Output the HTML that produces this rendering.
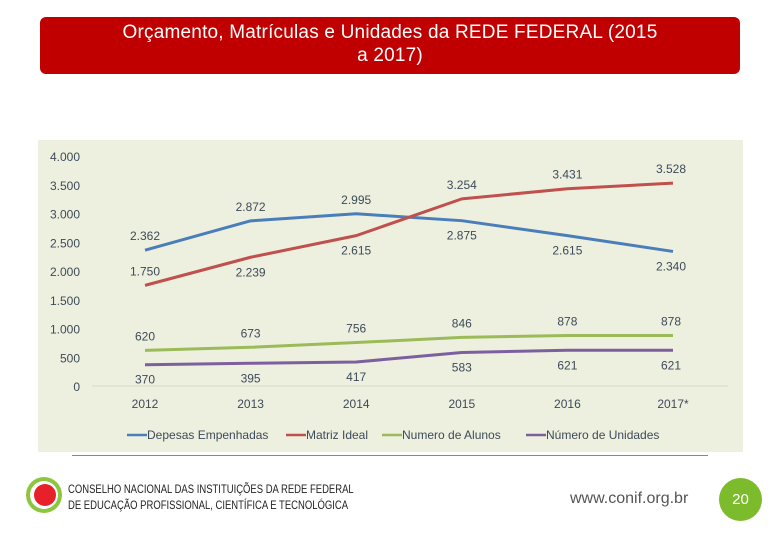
<!DOCTYPE html>
<html><head><meta charset="utf-8">
<style>
body{margin:0;width:780px;height:540px;background:#fff;font-family:"Liberation Sans",sans-serif;overflow:hidden;position:relative}
#title{position:absolute;left:40px;top:17px;width:700px;height:57px;background:#c00000;border-radius:6px;color:#fff;font-size:19px;text-align:center;line-height:23px;padding-top:4px;box-sizing:border-box;letter-spacing:0.2px}
#sep{position:absolute;left:72px;top:455px;width:636px;height:1px;background:#888}
#foot{position:absolute;left:68px;top:481px;font-size:12px;line-height:16px;color:#222;font-family:"Liberation Sans Narrow","Liberation Sans",sans-serif;transform:scaleX(0.79);transform-origin:left}
#url{position:absolute;left:570px;top:490px;font-size:16px;color:#555}
#page{position:absolute;left:719px;top:478px;width:43px;height:43px;border-radius:50%;background:#7cbc2c;color:#fff;font-size:15px;text-align:center;line-height:43px}
</style></head><body>
<div id="title">Orçamento, Matrículas e Unidades da REDE FEDERAL (2015<br>a 2017)</div>
<svg id="chart" width="780" height="540" style="position:absolute;left:0;top:0">
<rect x="38" y="140" width="705" height="312" fill="#eef0df"/>
<g id="g"></g>
</svg>
<div id="sep"></div>
<svg style="position:absolute;left:24px;top:475px" width="40" height="40">
<circle cx="20" cy="20" r="18" fill="#8cc63f"/><circle cx="20" cy="20" r="14" fill="#fff"/><circle cx="21" cy="20" r="11" fill="#e8202a"/></svg>
<div id="foot">CONSELHO NACIONAL DAS INSTITUIÇÕES DA REDE FEDERAL<br>DE EDUCAÇÃO PROFISSIONAL, CIENTÍFICA E TECNOLÓGICA</div>
<div id="url">www.conif.org.br</div>
<div id="page">20</div>
<script>
const categories=["2012","2013","2014","2015","2016","2017*"];
const despesas=[2362,2872,2995,2875,2615,2340];
const matriz=[1750,2239,2615,3254,3431,3528];
const alunos=[620,673,756,846,878,878];
const unidades=[370,395,417,583,621,621];
const yTicks=[0,500,1000,1500,2000,2500,3000,3500,4000];
const seriesNames=["Depesas Empenhadas","Matriz Ideal","Numero de Alunos","Número de Unidades"];
const fmt=v=>v>=1000?Math.floor(v/1000)+"."+String(v%1000).padStart(3,"0"):String(v);
const x=i=>145+i*105.6, y=v=>386-v*230/4000;
const NS="http://www.w3.org/2000/svg", g=document.getElementById("g");
function mk(t,a,txt){const e=document.createElementNS(NS,t);for(const k in a)e.setAttribute(k,a[k]);if(txt!=null)e.textContent=txt;g.appendChild(e);return e;}
yTicks.forEach(v=>{const t=mk("text",{x:80,y:y(v)+5,"text-anchor":"end","font-size":12,fill:"#3c4a5a"},fmt(v));

});
const ax=mk("line",{x1:92,x2:728,y1:y(0),y2:y(0),stroke:"#d6d9c8"});


categories.forEach((c,i)=>{const t=mk("text",{x:x(i),y:408,"text-anchor":"middle","font-size":12,fill:"#3c4a5a"},c);

});
const all=[
 [despesas,"#4a7ebb",[-1,-1,-1,1,1,1],"series-despesas"],
 [matriz,"#c0504d",[-1,1,1,-1,-1,-1],"series-matriz"],
 [alunos,"#9bbb59",[-1,-1,-1,-1,-1,-1],"series-alunos"],
 [unidades,"#7d5fa0",[1,1,1,1,1,1],"series-unidades"]];
all.forEach(([d,col,side,nm])=>{
 const p=mk("polyline",{points:d.map((v,i)=>x(i)+","+y(v)).join(" "),fill:"none",stroke:col,"stroke-width":3,"stroke-linejoin":"round"});
 
 
 d.forEach((v,i)=>{const t=mk("text",{x:x(i)+(i==5?-2:0),y:y(v)+(side[i]<0?-10:19),"text-anchor":"middle","font-size":12,fill:"#3c4a5a"},fmt(v));
 
 });
});
const lx=[127,286,382,526];
seriesNames.forEach((n,k)=>{
 const l=mk("line",{x1:lx[k],x2:lx[k]+20,y1:435,y2:435,stroke:all[k][1],"stroke-width":2.5});
 
 
 const t=mk("text",{x:lx[k]+20,y:439,"font-size":12,fill:"#3c4a5a"},n);
 
 
});
</script>
</body></html>
